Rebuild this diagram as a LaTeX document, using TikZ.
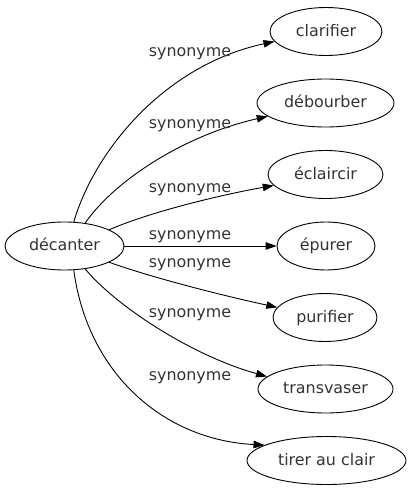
\documentclass[tikz,border=0pt]{standalone}
\usepackage{fontspec}
\setmainfont{DejaVu Sans}
\usetikzlibrary{arrows.meta,shapes.geometric}
\begin{document}
\begin{tikzpicture}[x=1pt,y=-1pt,
  txt/.style={font=\fontsize{15.9}{19}\selectfont, text=black!80},
  word/.style={txt, draw, ellipse, line width=0.9pt, inner sep=0pt,
    minimum height=48pt, text height=12pt, text depth=3pt},
  lab/.style={txt, anchor=base, inner sep=0pt},
  edge/.style={line width=0.9pt, -{Triangle[length=11pt,width=7.5pt]}}]
\useasboundingbox (0,0) rectangle (409,491);
\node[word, minimum width=119pt] (d) at (64.5,246) {décanter};
\node[word, minimum width=112pt] (n1) at (326,31.5) {clarifier};
\node[word, minimum width=137pt] (n2) at (325.5,103) {débourber};
\node[word, minimum width=115pt] (n3) at (325.5,174.5) {éclaircir};
\node[word, minimum width=98pt] (n4) at (326,246) {épurer};
\node[word, minimum width=104pt] (n5) at (325,317.5) {purifier};
\node[word, minimum width=135pt] (n6) at (325.5,389) {transvaser};
\node[word, minimum width=159pt] (n7) at (326.5,460.5) {tirer au clair};
\draw[edge] (d.69) .. controls (95,150) and (165,65) .. (n1.191);
\draw[edge] (d.48) .. controls (115,180) and (185,135) .. (n2.193);
\draw[edge] (d.20) .. controls (150,212) and (220,195) .. (n3.192);
\draw[edge] (d.0) -- (n4.180);
\draw[edge] (d.-20) .. controls (150,277) and (220,295) .. (n5.168);
\draw[edge] (d.-48) .. controls (115,305) and (190,355) .. (n6.168);
\draw[edge] (d.-69) .. controls (88,375) and (165,440) .. (n7.166);
\node[lab] (l1) at (190,56) {synonyme};
\node[lab] (l2) at (190,128.5) {synonyme};
\node[lab] (l3) at (190,192) {synonyme};
\node[lab] (l4) at (190,239) {synonyme};
\node[lab] (l5) at (190,267) {synonyme};
\node[lab] (l6) at (190,317) {synonyme};
\node[lab] (l7) at (190,380) {synonyme};
\end{tikzpicture}
\end{document}
